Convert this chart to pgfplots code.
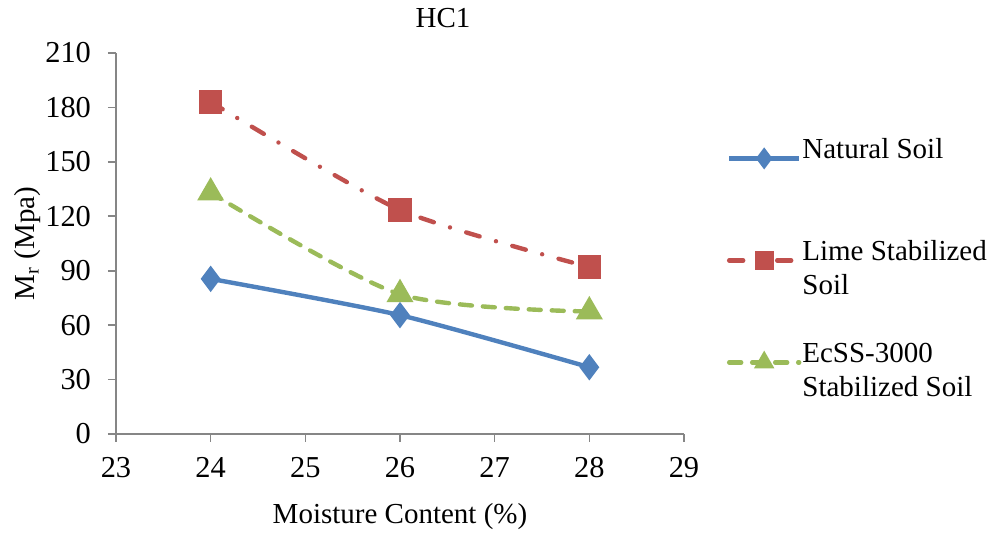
\documentclass[border=0pt]{standalone}
\usepackage{fontspec}
\setmainfont{Liberation Serif}
\usepackage{pgfplots}
\pgfplotsset{compat=1.18}
\definecolor{cblue}{HTML}{4F81BD}
\definecolor{cred}{HTML}{C0504D}
\definecolor{cgreen}{HTML}{9BBB59}
\definecolor{caxis}{HTML}{868686}
\newcommand\ft{\fontsize{15.2}{18}\selectfont}
\newcommand\fl{\fontsize{14.5}{17}\selectfont}
\newcommand\fh{\fontsize{14.5}{17}\selectfont}
\begin{document}
\begin{tikzpicture}
\path (0,0) rectangle (496.5pt,263.5pt);
\begin{axis}[
  at={(58pt,46.5pt)}, anchor=south west,
  scale only axis, width=284pt, height=190.5pt,
  xmin=23, xmax=29, ymin=0, ymax=210,
  xtick={23,...,29}, ytick={0,30,...,210},
  axis x line*=bottom, axis y line*=left,
  axis line style={-, caxis, line width=0.8pt},
  tick style={caxis, line width=0.8pt},
  tick align=outside, major tick length=4pt,
  /pgf/number format/assume math mode=true,
  tick label style={font=\ft},
  xticklabel style={yshift=-4pt},
  yticklabel style={xshift=-5pt},
  xlabel={Moisture Content (\%)}, ylabel={M\textsubscript{r} (Mpa)},
  label style={font=\fl},
  xlabel style={yshift=-6pt},
  ylabel style={yshift=-4.5pt},
  title={HC1}, title style={font=\fh, xshift=21.5pt, yshift=3pt},
  legend style={draw=none, font=\fl, at={(1.075,0.781)}, anchor=north west,
    row sep=0pt, legend cell align=left, inner sep=0pt,
    nodes={inner sep=0pt, text height=10.8pt, text depth=6.2pt, anchor=base west}},
  legend image code/.code={
    \draw[#1] (0pt,0pt) -- (17.5pt,0pt) -- (35pt,0pt);
    \draw[#1, solid, mark size=3.7pt] plot coordinates {(17.5pt,0pt)};
    \path (35.5pt,0pt);
  },
]
\addplot[cblue, line width=2.2pt, smooth, tension=0.4, mark=diamond*, mark size=4.8pt, mark options={solid, fill=cblue}]
  coordinates {(24,85.5) (26,65.5) (28,36.8)};
\addlegendentry{Natural Soil}
\addlegendimage{empty legend}\addlegendentry{}
\addlegendimage{empty legend}\addlegendentry{}
\addplot[cred, line width=2.2pt, line cap=round, dash pattern=on 7pt off 8.5pt on 0pt off 8.5pt, smooth, tension=0.4, mark=square*, mark size=4.8pt, mark options={solid, fill=cred}]
  coordinates {(24,183) (26,123.5) (28,92)};
\addlegendentry{Lime Stabilized}
\addlegendimage{empty legend}\addlegendentry{Soil}
\addlegendimage{empty legend}\addlegendentry{}
\addplot[cgreen, line width=2.2pt, line cap=round, dash pattern=on 6pt off 5.5pt, smooth, tension=0.45, mark=triangle*, mark size=5.6pt, mark options={solid, fill=cgreen}]
  coordinates {(24,133) (26,77) (28,67.5)};
\addlegendentry{EcSS-3000}
\addlegendimage{empty legend}\addlegendentry{Stabilized Soil}
\end{axis}
\end{tikzpicture}
\end{document}
